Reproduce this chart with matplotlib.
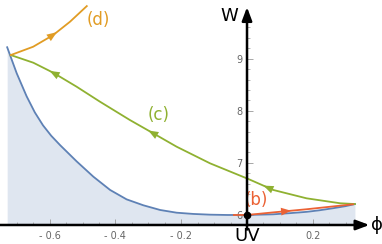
import numpy as np
import matplotlib.pyplot as plt

# potential curve (blue)
phi_pot = [-0.729, -0.70, -0.67, -0.645, -0.62, -0.595, -0.568, -0.518, -0.467,
           -0.416, -0.366, -0.315, -0.264, -0.214, -0.163, -0.112, -0.06, 0.00,
           0.08, 0.13, 0.181, 0.22, 0.262, 0.30, 0.328]
w_pot = [9.22, 8.72, 8.28, 7.97, 7.72, 7.52, 7.34, 7.03, 6.735,
         6.48, 6.30, 6.186, 6.096, 6.044, 6.02, 6.006, 6.00, 6.00,
         6.013, 6.035, 6.06, 6.09, 6.13, 6.17, 6.21]

# flow (c), green
phi_c = [-0.718, -0.6495, -0.589, -0.518, -0.447, -0.356, -0.285, -0.214,
         -0.1125, 0.004, 0.08, 0.181, 0.283, 0.328]
w_c = [9.07, 8.923, 8.731, 8.463, 8.175, 7.823, 7.568, 7.311,
       6.992, 6.691, 6.48, 6.32, 6.225, 6.21]

# flow (d), orange
phi_d = [-0.718, -0.65, -0.589, -0.538, -0.487]
w_d = [9.07, 9.23, 9.455, 9.71, 10.01]

# flow (b), red
phi_b = [-0.04, 0.00, 0.08, 0.181, 0.322]
w_b = [6.00, 6.00, 6.05, 6.11, 6.205]

blue = '#5E81B5'
green = '#8FB131'
orange = '#E19C24'
red = '#EB6235'
grey = '#666666'

fig = plt.figure(figsize=(3.82, 2.44), dpi=100)
ax = fig.add_axes([0, 0, 1, 1])
ax.set_xlim(-0.7508, 0.4103)
ax.set_ylim(5.443, 10.127)

x_ax = 5.808  # height of the horizontal axis

ax.fill_between(phi_pot, w_pot, x_ax, color='#DFE6F0', lw=0, zorder=1)
ax.plot(phi_pot, w_pot, color=blue, lw=1.3, zorder=3)
ax.plot(phi_c, w_c, color=green, lw=1.3, zorder=4)
ax.plot(phi_d, w_d, color=orange, lw=1.3, zorder=4)
ax.plot(phi_b, w_b, color=red, lw=1.3, zorder=5)


def head(xs, ys, tip, back, color):
    # arrow head sitting on the curve, tip at phi=tip
    x0, x1 = tip + back, tip
    y0, y1 = np.interp(x0, xs, ys), np.interp(x1, xs, ys)
    ax.annotate('', xy=(x1, y1), xytext=(x0, y0), zorder=6,
                arrowprops=dict(arrowstyle='-|>,head_length=0.9,head_width=0.35',
                                color=color, lw=0.01, mutation_scale=8,
                                shrinkA=0, shrinkB=0))


for t in [-0.60, -0.30, 0.05]:
    head(phi_c, w_c, t, 0.02, green)
head(phi_d, w_d, -0.578, -0.02, orange)
head(phi_b, w_b, 0.134, -0.02, red)

ax.plot([0], [6.0], 'o', color='k', ms=4.5, zorder=7)

# axes with arrows
for s in ax.spines.values():
    s.set_color('none')
ax.spines['left'].set_position(('data', 0))
ax.spines['bottom'].set_position(('data', x_ax))
ax.annotate('', xy=(0.372, x_ax), xytext=(-0.7508, x_ax), zorder=8,
            arrowprops=dict(arrowstyle='-|>,head_length=0.8,head_width=0.3',
                            color='k', lw=1.8, mutation_scale=10,
                            shrinkA=0, shrinkB=0))
ax.annotate('', xy=(0, 9.99), xytext=(0, 5.72), zorder=8,
            arrowprops=dict(arrowstyle='-|>,head_length=0.8,head_width=0.3',
                            color='k', lw=1.8, mutation_scale=10,
                            shrinkA=0, shrinkB=0))

ax.set_xticks([-0.6, -0.4, -0.2, 0.2])
ax.set_xticklabels(['- 0.6', '- 0.4', '- 0.2', '0.2'])
ax.set_xticks(np.arange(-0.70, 0.36, 0.05), minor=True)
ax.set_yticks([6, 7, 8, 9])
ax.set_yticks(np.arange(6.2, 9.9, 0.2), minor=True)
ax.tick_params(which='both', direction='in', colors='#999999',
               labelcolor=grey, labelsize=7)
ax.tick_params(which='major', length=4, width=0.6)
ax.tick_params(which='minor', length=2.5, width=0.5)
ax.tick_params(axis='x', pad=4)
ax.tick_params(axis='y', pad=3)

ax.text(-0.028, 10.0, 'W', fontsize=13, ha='right', va='top')
ax.text(0.377, x_ax, 'ϕ', fontsize=13, ha='left', va='center')
ax.text(0.0, 5.6, 'UV', fontsize=13, ha='center', va='center')

ax.text(-0.453, 9.74, '(d)', color=orange, fontsize=12, ha='center', va='center')
ax.text(-0.27, 7.92, '(c)', color=green, fontsize=12, ha='center', va='center')
ax.text(0.0295, 6.29, '(b)', color=red, fontsize=12, ha='center', va='center')

fig.savefig('out.png', dpi=100)
